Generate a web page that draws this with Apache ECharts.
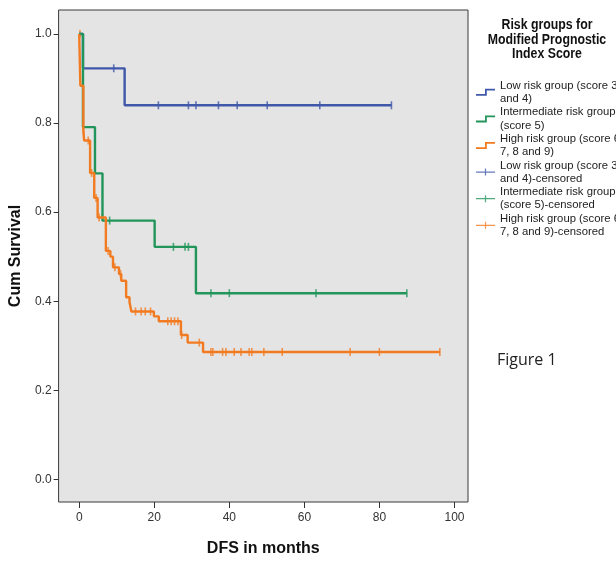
<!DOCTYPE html>
<html>
<head>
<meta charset="utf-8">
<script src="https://cdn.jsdelivr.net/npm/echarts@6/dist/echarts.min.js"></script>
</head>
<body style="margin:0;background:#fff">
<div id="main" style="width:616px;height:562px"></div>
<script>
// Kaplan-Meier steps [month, cum survival]
var lowSteps = [[0, 1], [1, 0.923], [12.1, 0.840], [83.2, 0.840]];
var midSteps = [[0, 1], [1, 0.791], [4.2, 0.687], [6.2, 0.581], [20.1, 0.522], [31.1, 0.418], [87.3, 0.418]];
var highSteps = [[0, 1], [0.3, 0.884], [1.1, 0.785], [1.3, 0.761], [2.9, 0.688], [4, 0.632], [4.9, 0.588],
  [7.1, 0.513], [8.3, 0.500], [9, 0.476], [10.6, 0.461], [11.2, 0.446], [12.5, 0.409], [13.4, 0.398],
  [13.9, 0.377], [19.9, 0.366], [21.2, 0.355], [27.1, 0.324], [28.9, 0.307], [33, 0.286], [96.1, 0.286]];

// censored cases [month, cum survival]
var lowCensored = [[9.2, 0.923], [21.1, 0.840], [29.1, 0.840], [31.1, 0.840], [37.1, 0.840], [42.1, 0.840],
  [50.1, 0.840], [64.1, 0.840], [83.2, 0.840]];
var midCensored = [[8.1, 0.581], [25.1, 0.522], [28.2, 0.522], [29.1, 0.522], [35.1, 0.418], [40, 0.418],
  [63.1, 0.418], [87.3, 0.418]];
var highCensored = [[0.2, 1], [1.1, 0.785], [2.4, 0.761], [3.3, 0.688], [4.5, 0.632], [5.3, 0.588], [6.2, 0.588],
  [7.7, 0.513], [9.5, 0.476], [11, 0.461], [15, 0.377], [16.5, 0.377], [17.6, 0.377], [19, 0.377],
  [23.6, 0.355], [24.5, 0.355], [25.4, 0.355], [26.3, 0.355], [27.3, 0.324], [32, 0.307],
  [35.1, 0.286], [35.6, 0.286], [38.2, 0.286], [39.1, 0.286], [41.3, 0.286], [43.1, 0.286], [45.3, 0.286],
  [46, 0.286], [49.2, 0.286], [54.1, 0.286], [72.2, 0.286], [80, 0.286], [96.1, 0.286]];

var xTicks = [0, 20, 40, 60, 80, 100];
var yTicks = [0, 0.2, 0.4, 0.6, 0.8, 1.0];

var groupNames = ['Low risk group (score 3\nand 4)', 'Intermediate risk group\n(score 5)', 'High risk group (score 6,\n7, 8 and 9)'];
var censoredNames = ['Low risk group (score 3\nand 4)-censored', 'Intermediate risk group\n(score 5)-censored', 'High risk group (score 6,\n7, 8 and 9)-censored'];
var colors = ['#4058aa', '#22955a', '#f27b21'];

var stepIcon = 'path://M0,5.2 H9 V0 H19 V1.8 H10.8 V7 H0 Z';
var crossIcon = 'path://M0,2.9 H19 V4.1 H0 Z M8.9,0 H10.1 V7 H8.9 Z';

var chart = echarts.init(document.getElementById('main'));

var series = [];
var stepData = [lowSteps, midSteps, highSteps];
var cenData = [lowCensored, midCensored, highCensored];
for (var i = 0; i < 3; i++) {
  series.push({
    name: groupNames[i],
    type: 'line',
    step: 'end',
    data: stepData[i],
    showSymbol: false,
    color: colors[i],
    lineStyle: { width: 2.4, color: colors[i] },
    animation: false
  });
}
for (var j = 0; j < 3; j++) {
  series.push({
    name: censoredNames[j],
    type: 'scatter',
    data: cenData[j],
    symbol: 'rect',
    symbolSize: [1.6, 8],
    color: colors[j],
    itemStyle: { color: colors[j] },
    animation: false
  });
}

var legendData = [];
for (var k = 0; k < 3; k++) legendData.push({ name: groupNames[k], icon: stepIcon });
for (var m = 0; m < 3; m++) legendData.push({ name: censoredNames[m], icon: crossIcon });

chart.setOption({
  backgroundColor: '#ffffff',
  grid: {
    left: 57, top: 10, width: 411, height: 494,
    show: true, backgroundColor: '#e4e4e4', borderColor: '#3a3a3a', borderWidth: 1
  },
  xAxis: {
    type: 'value', min: -5.5, max: 103.6,
    name: 'DFS in months', nameLocation: 'middle', nameGap: 39,
    nameTextStyle: { fontFamily: 'Liberation Sans', fontWeight: 'bold', fontSize: 16, color: '#111' },
    axisLine: { show: false, onZero: false },
    axisTick: { show: true, length: 6, customValues: xTicks, lineStyle: { color: '#333' } },
    axisLabel: { customValues: xTicks, margin: 10, fontFamily: 'Liberation Sans', fontSize: 12, color: '#333' },
    splitLine: { show: false }
  },
  yAxis: {
    type: 'value', min: -0.051, max: 1.054,
    name: 'Cum Survival', nameLocation: 'middle', nameGap: 32, nameRotate: 90,
    nameTextStyle: { fontFamily: 'Liberation Sans', fontWeight: 'bold', fontSize: 16, color: '#111' },
    axisLine: { show: false, onZero: false },
    axisTick: { show: true, length: 5, customValues: yTicks, lineStyle: { color: '#333' } },
    axisLabel: {
      customValues: yTicks, margin: 7, fontFamily: 'Liberation Sans', fontSize: 12, color: '#333',
      formatter: function (v) { return v.toFixed(1); }
    },
    splitLine: { show: false }
  },
  legend: {
    orient: 'vertical', left: 476, top: 79, padding: 0,
    itemWidth: 19, itemHeight: 7, itemGap: 0,
    data: legendData,
    selectedMode: false,
    textStyle: { fontFamily: 'Liberation Sans', fontSize: 11.3, lineHeight: 13.3, color: '#222' }
  },
  graphic: [{
    type: 'text', x: 547, y: 18, scaleX: 0.88,
    style: {
      text: 'Risk groups for\nModified Prognostic\nIndex Score',
      x: 0, y: 0, textAlign: 'center',
      font: 'bold 14px "Liberation Sans", sans-serif', lineHeight: 14.5, fill: '#111'
    }
  }, {
    type: 'text',
    style: { text: 'Figure 1', x: 497, y: 352, font: '16px "Open Sans", sans-serif', fill: '#222' }
  }],
  series: series
});
</script>
</body>
</html>
